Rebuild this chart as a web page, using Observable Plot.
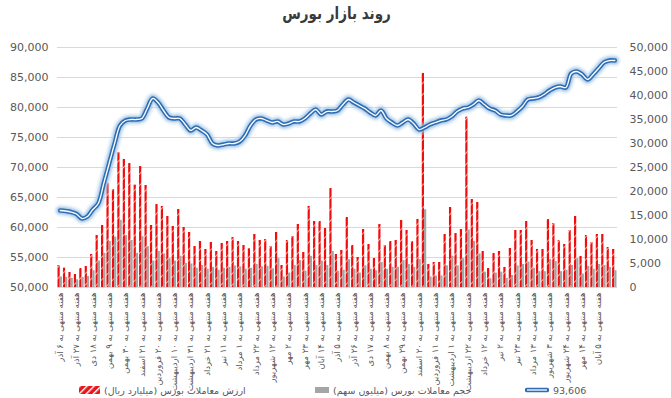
<!DOCTYPE html>
<html><head><meta charset="utf-8">
<script src="https://cdn.jsdelivr.net/npm/d3@7"></script>
<script src="https://cdn.jsdelivr.net/npm/@observablehq/plot@0.6"></script>
<style>
body{margin:0;background:#fff;width:671px;height:398px;overflow:hidden;position:relative;font-family:"DejaVu Sans",sans-serif;}
#title{position:absolute;left:0;top:0;width:671px;height:30px;text-align:center;font-weight:bold;font-size:13.5px;line-height:26px;color:#3a3a3a;}
#title span{display:inline-block;transform:translateX(1px) scaleY(1.25);transform-origin:50% 55%;}
#chart{position:absolute;left:0;top:30px;}
#legend{position:absolute;top:382px;left:0;width:671px;height:16px;font-size:9.5px;color:#595959;}
.item{position:absolute;top:0;display:flex;align-items:center;height:16px;white-space:nowrap;}
.item span{direction:rtl;}
</style></head>
<body>
<div id="chart"></div>
<div id="title"><span dir="rtl">روند بازار بورس</span></div>
<div id="legend"></div>
<script>
// Index (left axis)
const indexValues = [62830,62750,62580,62250,61500,61830,63000,64000,67330,70670,
74000,77000,77830,78000,78000,78170,79830,81500,80830,79500,
78330,78170,78170,77170,76170,76670,76170,75500,74000,73670,
73830,74000,74000,74330,75330,77000,78000,78170,77830,77500,
77670,77170,77330,77670,77670,78170,79000,79670,78830,79330,
79330,79500,80500,81330,80830,80330,79830,79170,78670,79500,
78170,77500,77000,77500,78000,77330,76330,76670,77170,77500,
77830,78000,78500,79330,79830,80000,80500,81170,80500,79830,
79500,78830,78670,78670,79330,80170,81330,81500,81670,82170,
82830,83330,83500,83330,85670,86000,85500,84670,85500,86500,
87500,87830,87830];
// Trade value (billion rial, right axis)
const tradeValue = [4580,4030,3125,2710,3960,4375,6875,10830,12920,21730,
20420,28060,26670,25830,21320,25200,21250,12920,17290,16875,
14790,12710,16250,12500,11460,8540,9580,7920,9375,7500,
9170,9580,10420,9580,8750,8060,11040,9790,10000,8540,
11460,4580,9790,10625,13125,7290,16875,13750,13750,12290,
20625,6875,7710,14580,8750,6250,12080,8960,6040,13125,
8750,9580,9790,13960,11875,9580,14170,44600,4790,5210,
5210,11040,16670,11250,12080,35480,18330,17710,7500,3960,
7080,7500,4170,8125,11875,11875,13750,9790,7920,7920,
14170,13330,9790,8960,11875,14790,6460,10830,9375,11040,
11040,8330,7920];
// Trade volume (million shares, right axis)
const tradeVolume = [2200,2100,1900,1600,2100,2300,3500,5500,7100,9600,
10500,14000,10800,9800,7100,10600,8500,5500,7500,7000,
6000,5500,6500,5000,4900,4000,4600,3800,4200,3600,
4000,4200,4500,4300,3800,4000,4800,4300,4400,3900,
6000,2200,3000,4600,5600,3400,6500,4600,5500,4600,
7500,3400,3600,5800,3800,3000,4500,3800,3500,5200,
3800,4200,4200,5600,4800,4200,5800,16200,2200,2400,
2400,4500,6500,4500,6000,12000,9600,7000,3200,1800,
3000,3200,1900,2500,4500,4800,5300,4000,3300,3300,
5800,5400,3300,3600,4600,6000,2800,4400,3800,4800,
4600,4200,3500];
const tickLabels = ["هفته منتهی به ۶ آذر","هفته منتهی به ۲۷ آذر","هفته منتهی به ۱۸ دی","هفته منتهی به ۹ بهمن","هفته منتهی به ۳۰ بهمن","هفته منتهی به ۲۱ اسفند","هفته منتهی به ۲۰ فروردین","هفته منتهی به ۱۰ اردیبهشت","هفته منتهی به ۳۱ اردیبهشت","هفته منتهی به ۲۱ خرداد","هفته منتهی به ۱۱ تیر","هفته منتهی به ۱ مرداد","هفته منتهی به ۲۲ مرداد","هفته منتهی به ۱۲ شهریور","هفته منتهی به ۲ مهر","هفته منتهی به ۲۳ مهر","هفته منتهی به ۱۴ آبان","هفته منتهی به ۵ آذر","هفته منتهی به ۲۶ آذر","هفته منتهی به ۱۷ دی","هفته منتهی به ۸ بهمن","هفته منتهی به ۲۹ بهمن","هفته منتهی به ۲۰ اسفند","هفته منتهی به ۱۱ فروردین","هفته منتهی به ۱ اردیبهشت","هفته منتهی به ۲۲ اردیبهشت","هفته منتهی به ۱۲ خرداد","هفته منتهی به ۲ تیر","هفته منتهی به ۲۳ تیر","هفته منتهی به ۱۳ مرداد","هفته منتهی به ۳ شهریور","هفته منتهی به ۲۴ شهریور","هفته منتهی به ۱۴ مهر","هفته منتهی به ۵ آبان"];
const leftTicks = [50000,55000,60000,65000,70000,75000,80000,85000,90000];
const rightTicks = [0,5000,10000,15000,20000,25000,30000,35000,40000,45000,50000];
const seriesNames = ["ارزش معاملات بورس (میلیارد ریال)","حجم معاملات بورس (میلیون سهم)","93,606"];

const W = 671, H = 368, mL = 57, mR = 54;
const n = indexValues.length;
const idx = d3.range(n);
const labeledIdx = tickLabels.map((_, k) => k * 3);
const rows = idx.map(i => ({i, line: indexValues[i], red: tradeValue[i], grey: tradeVolume[i]}));
const toLeft = v => (v - 50000) * (50000 / 40000);
const bw = (W - mL - mR) / n;
const ly = d => toLeft(d.line);
const fmt = d3.format(",");

const chart = Plot.plot({
  width: W, height: H, marginTop: 17, marginBottom: 111, marginLeft: mL, marginRight: mR,
  style: {color: "#595959", fontFamily: "DejaVu Sans, sans-serif", background: "transparent", overflow: "visible"},
  x: {type: "band", domain: idx, padding: 0, axis: null, label: null},
  y: {domain: [0, 50000], axis: null, label: null},
  marks: [
    Plot.ruleY(leftTicks.map(toLeft), {stroke: "#d9d9d9", strokeWidth: 1}),
    Plot.barY(rows, {x: "i", y: "red", fill: "url(#hatch)", insetLeft: 0.5, insetRight: bw / 2}),
    Plot.barY(rows, {x: "i", y: "grey", fill: "#a5a5a5", insetLeft: bw / 2, insetRight: 0.5}),
    Plot.line(rows, {x: "i", y: ly, stroke: "#bdd7ee", strokeWidth: 13, strokeOpacity: 0.25, curve: "catmull-rom"}),
    Plot.line(rows, {x: "i", y: ly, stroke: "#9dc3e6", strokeWidth: 9.5, strokeOpacity: 0.35, curve: "catmull-rom"}),
    Plot.line(rows, {x: "i", y: ly, stroke: "#9dc3e6", strokeWidth: 7, strokeOpacity: 0.5, curve: "catmull-rom"}),
    Plot.line(rows, {x: "i", y: ly, stroke: "#2e6db4", strokeWidth: 4.5, curve: "catmull-rom"}),
    Plot.line(rows, {x: "i", y: ly, stroke: "#ffffff", strokeWidth: 1.3, curve: "catmull-rom"}),
    Plot.axisY({anchor: "left", ticks: leftTicks.map(toLeft), tickFormat: d => fmt(Math.round(50000 + d / 1.25)), tickSize: 0, tickPadding: 9, fontSize: 11, label: null}),
    Plot.axisY({anchor: "right", ticks: rightTicks, tickFormat: fmt, tickSize: 0, tickPadding: 12, fontSize: 11, label: null}),
    Plot.axisX({ticks: labeledIdx, tickFormat: i => tickLabels[i / 3], tickRotate: -90, tickSize: 0, tickPadding: 5, fontSize: 8.5, label: null})
  ]
});
const defs = document.createElementNS("http://www.w3.org/2000/svg", "defs");
defs.innerHTML = '<pattern id="hatch" patternUnits="userSpaceOnUse" width="8" height="8" patternTransform="rotate(45)"><rect width="8" height="8" fill="#f20d0d"/><rect width="0.6" height="8" fill="#ffffff"/></pattern>';
chart.insertBefore(defs, chart.firstChild);
document.getElementById("chart").appendChild(chart);

// Legend
const legend = document.getElementById("legend");
const items = [
  {left: 79, sw: '<svg width="21" height="8"><defs><pattern id="hatchL" patternUnits="userSpaceOnUse" width="5" height="5" patternTransform="rotate(45)"><rect width="5" height="5" fill="#e8141b"/><rect width="1.4" height="5" fill="#ffffff"/></pattern></defs><rect width="21" height="8" fill="url(#hatchL)"/></svg>', text: seriesNames[0]},
  {left: 315, sw: '<svg width="14" height="6"><rect width="14" height="6" fill="#a5a5a5"/></svg>', text: seriesNames[1]},
  {left: 525, sw: '<svg width="24" height="8"><line x1="2" y1="4" x2="22" y2="4" stroke="#2e6db4" stroke-width="4.5" stroke-linecap="round"/><line x1="2" y1="4" x2="22" y2="4" stroke="#fff" stroke-width="1.3"/></svg>', text: seriesNames[2]}
];
items.forEach(it => {
  const d = document.createElement("div");
  d.className = "item";
  d.style.left = it.left + "px";
  d.innerHTML = it.sw + '<span style="margin-left:4px">' + it.text + '</span>';
  legend.appendChild(d);
});
</script>
</body></html>
